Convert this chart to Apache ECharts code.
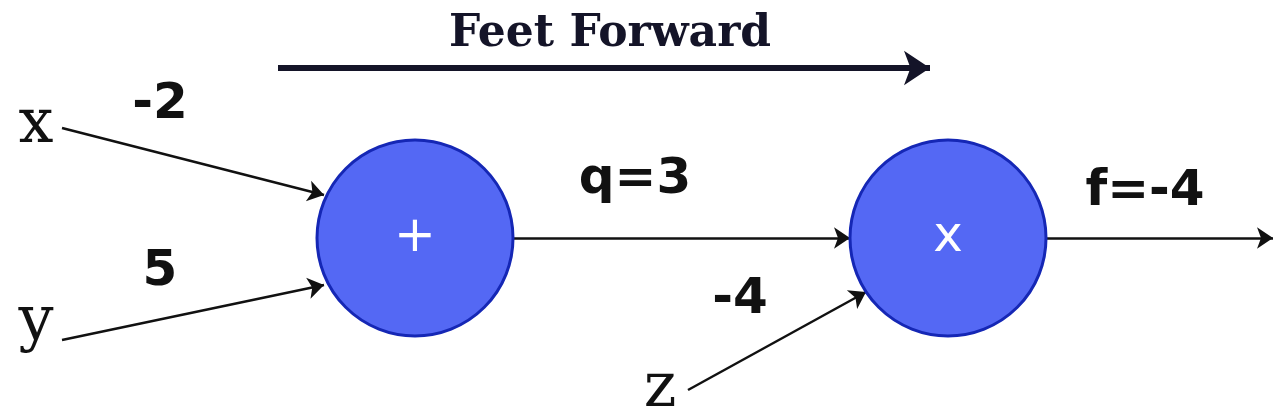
<!DOCTYPE html>
<html>
<head>
<meta charset="utf-8">
<script src="https://cdn.jsdelivr.net/npm/echarts@6/dist/echarts.min.js"></script>
<style>html,body{margin:0;background:#fff}#c{width:1275px;height:419px}</style>
</head>
<body>
<div id="c"></div>
<script>
// node positions (pixel space of the diagram)
var opNodes = [
  { name: 'plus', text: '+', pos: [415, 238] },
  { name: 'mul', text: 'x', pos: [948, 238] }
];
var points = [
  ['xs', [62, 128]], ['xe', [324, 195]],
  ['ys', [62, 340]], ['ye', [324, 285]],
  ['qs', [513, 238]], ['qe', [850, 238]],
  ['zs', [688, 390]], ['ze', [866, 292]],
  ['fs', [1046, 238]], ['fe', [1273, 238]],
  ['ts', [278, 68]], ['te', [930, 68]]
];
var varLabels = [['x', [36, 126]], ['y', [36, 323]], ['z', [660, 390]]];
var edgeLabels = [['-2', [160, 105]], ['5', [160, 272]], ['q=3', [635, 180]], ['-4', [740, 300]], ['f=-4', [1145, 192]]];
var edges = [['xs', 'xe'], ['ys', 'ye'], ['qs', 'qe'], ['zs', 'ze'], ['fs', 'fe']];

var nodes = [];
opNodes.forEach(function (n) {
  nodes.push({
    name: n.name, value: n.pos, symbol: 'circle', symbolSize: 196,
    itemStyle: { color: '#5468f4', borderColor: '#1527b5', borderWidth: 3 },
    label: { show: true, position: 'inside', formatter: n.text, color: '#fff', fontSize: 50, fontFamily: 'DejaVu Sans' }
  });
});
points.forEach(function (p) {
  nodes.push({ name: p[0], value: p[1], symbolSize: 0, label: { show: false } });
});
varLabels.forEach(function (p) {
  nodes.push({
    name: 'v_' + p[0], value: p[1], symbolSize: 0,
    label: { show: true, position: 'inside', formatter: p[0], color: '#111', fontSize: 62, fontFamily: 'DejaVu Serif' }
  });
});
edgeLabels.forEach(function (p, i) {
  nodes.push({
    name: 'e_' + i, value: p[1], symbolSize: 0,
    label: { show: true, position: 'inside', formatter: p[0], color: '#111', fontSize: 50, fontWeight: 'bold', fontFamily: 'DejaVu Sans' }
  });
});

var links = edges.map(function (e) {
  return { source: e[0], target: e[1], lineStyle: { color: '#111', width: 2.5, opacity: 1, curveness: 0 } };
});
links.push({ source: 'ts', target: 'te', symbolSize: [0, 26], lineStyle: { color: '#141428', width: 6, opacity: 1 } });

var chart = echarts.init(document.getElementById('c'));
chart.setOption({
  animation: false,
  title: {
    text: 'Feet Forward', left: 605, top: 8, textAlign: 'center',
    textStyle: { fontSize: 44, fontWeight: 'bold', fontFamily: 'DejaVu Serif', color: '#141428' }
  },
  grid: { left: 0, right: 0, top: 0, bottom: 0 },
  xAxis: { type: 'value', min: 0, max: 1275, show: false },
  yAxis: { type: 'value', min: 0, max: 419, inverse: true, show: false },
  series: [{
    type: 'graph', coordinateSystem: 'cartesian2d', layout: 'none',
    edgeSymbol: ['none', 'arrow'], edgeSymbolSize: [0, 16],
    data: nodes, links: links, z: 2
  }]
});
</script>
</body>
</html>
